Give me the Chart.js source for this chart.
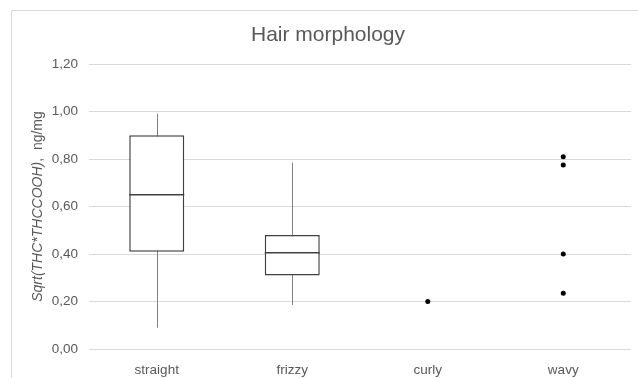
<!DOCTYPE html>
<html>
<head>
<meta charset="utf-8">
<script src="https://cdn.jsdelivr.net/npm/chart.js@4/dist/chart.umd.min.js"></script>
<style>
  html, body { margin: 0; padding: 0; background: #ffffff; }
  #wrap { width: 638px; height: 378px; position: relative; }
</style>
</head>
<body>
<div id="wrap"><canvas id="chart" width="638" height="378"></canvas></div>
<script>
// Hair morphology groups
const categories = ['straight', 'frizzy', 'curly', 'wavy'];

// Box-plot summary per group (null = no box drawn)
const whiskerLow  = [0.09, 0.185, null, null];
const quartile1   = [0.41, 0.31,  null, null];
const medians     = [0.65, 0.405, null, null];
const quartile3   = [0.90, 0.48,  null, null];
const whiskerHigh = [0.99, 0.785, null, null];

// Individual points shown as dots
const pointCategory = ['curly', 'wavy', 'wavy', 'wavy', 'wavy'];
const pointValue    = [0.20,    0.81,   0.775,  0.40,   0.235];

// Value axis ticks
const yTicks = [0, 0.2, 0.4, 0.6, 0.8, 1.0, 1.2];

const TEXT = '#595959';
const GRID = '#d9d9d9';
const BOX = '#404040';
const FONT = "'Liberation Sans', Arial, sans-serif";

const boxes = categories.map((c, i) => quartile1[i] == null ? null : [quartile1[i], quartile3[i]]);
const dots = pointCategory.map((c, i) => ({ x: c, y: pointValue[i] }));

// Frame, title, rotated axis title, whiskers and median lines
const decor = {
  id: 'decor',
  beforeDraw(chart) {
    const ctx = chart.ctx;
    ctx.save();
    ctx.strokeStyle = GRID;
    ctx.lineWidth = 1;
    ctx.beginPath();
    ctx.moveTo(11.5, 378);
    ctx.lineTo(11.5, 10.5);
    ctx.lineTo(638, 10.5);
    ctx.stroke();

    ctx.fillStyle = TEXT;
    ctx.textAlign = 'center';
    ctx.textBaseline = 'middle';
    ctx.font = '21px ' + FONT;
    ctx.fillText('Hair morphology', 328, 35);

    // axis title: italic expression followed by unit
    const a = 'Sqrt(THC*THCCOOH)';
    const b = ',  ng/mg';
    ctx.font = 'italic 14px ' + FONT;
    const wa = ctx.measureText(a).width;
    ctx.font = '14px ' + FONT;
    const wb = ctx.measureText(b).width;
    const total = wa + wb;
    const cy = (chart.chartArea.top + chart.chartArea.bottom) / 2;
    ctx.translate(38, cy);
    ctx.rotate(-Math.PI / 2);
    ctx.textAlign = 'left';
    ctx.font = 'italic 14px ' + FONT;
    ctx.fillText(a, -total / 2, 0);
    ctx.font = '14px ' + FONT;
    ctx.fillText(b, -total / 2 + wa, 0);
    ctx.restore();
  },
  beforeDatasetsDraw(chart) {
    const ctx = chart.ctx;
    const xs = chart.scales.x, ys = chart.scales.y;
    ctx.save();
    ctx.strokeStyle = '#7f7f7f';
    ctx.lineWidth = 1;
    categories.forEach((c, i) => {
      if (whiskerLow[i] == null) return;
      const x = Math.round(xs.getPixelForValue(i)) + 0.5;
      ctx.beginPath();
      ctx.moveTo(x, ys.getPixelForValue(whiskerHigh[i]));
      ctx.lineTo(x, ys.getPixelForValue(whiskerLow[i]));
      ctx.stroke();
    });
    ctx.restore();
  },
  afterDatasetsDraw(chart) {
    const ctx = chart.ctx;
    const ys = chart.scales.y;
    const meta = chart.getDatasetMeta(0);
    ctx.save();
    ctx.strokeStyle = BOX;
    ctx.lineWidth = 1.5;
    categories.forEach((c, i) => {
      if (medians[i] == null) return;
      const bar = meta.data[i];
      const half = bar.width / 2;
      const y = ys.getPixelForValue(medians[i]);
      ctx.beginPath();
      ctx.moveTo(bar.x - half, y);
      ctx.lineTo(bar.x + half, y);
      ctx.stroke();
    });
    ctx.restore();
  }
};

new Chart(document.getElementById('chart'), {
  type: 'bar',
  data: {
    labels: categories,
    datasets: [
      {
        label: 'Q1–Q3',
        data: boxes,
        backgroundColor: '#ffffff',
        borderColor: BOX,
        borderWidth: 1.5,
        borderSkipped: false,
        barPercentage: 0.406,
        categoryPercentage: 1.0
      },
      {
        type: 'line',
        label: 'points',
        data: dots,
        showLine: false,
        pointRadius: 2.5,
        pointBackgroundColor: '#000000',
        pointBorderColor: '#000000',
        pointBorderWidth: 0
      }
    ]
  },
  options: {
    responsive: false,
    animation: false,
    devicePixelRatio: 1,
    layout: { padding: { top: 64, right: 7, left: 0, bottom: 0 } },
    plugins: { legend: { display: false }, tooltip: { enabled: false }, title: { display: false } },
    scales: {
      x: {
        grid: { display: false },
        border: { display: false },
        ticks: { color: TEXT, font: { family: FONT, size: 13.5 }, padding: 5 },
        afterFit(s) { s.height = 29; }
      },
      y: {
        min: 0,
        max: 1.2,
        afterBuildTicks(s) { s.ticks = yTicks.map(v => ({ value: v })); },
        grid: { color: GRID, lineWidth: 1, drawTicks: false },
        border: { display: false },
        ticks: {
          color: TEXT,
          font: { family: FONT, size: 13.5 },
          padding: 11,
          callback: v => Number(v).toFixed(2).replace('.', ',')
        },
        afterFit(s) { s.width = 89; }
      }
    }
  },
  plugins: [decor]
});
</script>
</body>
</html>
